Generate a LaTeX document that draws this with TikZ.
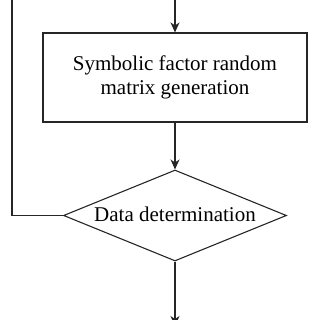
\documentclass[tikz,border=0pt]{standalone}
\usepackage{fontspec}
\setmainfont{Liberation Serif}
\usetikzlibrary{shapes.geometric,arrows.meta}
\begin{document}
\begin{tikzpicture}[x=1pt,y=-1pt,
  line width=1.1pt, draw=black!85,
  arr/.style={-{Stealth[length=10pt,width=9pt,inset=3pt]}},
  procbox/.style={draw, minimum width=264pt, minimum height=89pt, inner sep=0pt, align=center,
    font=\fontsize{21pt}{24pt}\selectfont},
  decision/.style={draw, diamond, inner sep=0pt, minimum width=223pt, minimum height=91pt, aspect=2.45,
    font=\fontsize{21pt}{24pt}\selectfont}]
\useasboundingbox (0,0) rectangle (320,320);
\clip (0,0) rectangle (320,320);
\coordinate (top) at (175,-2);
\coordinate (bot) at (175,326);
\coordinate (ltop) at (12,-2);
\node[procbox] (gen) at (175,77.5) {Symbolic factor random\\matrix generation};
\node[decision] (dec) at (175,215.5) {};
\node[font=\fontsize{21pt}{24pt}\selectfont, anchor=base] (dlabel) at (175,221) {Data determination};
\draw[arr] (top) -- (gen.north);
\draw[arr] (gen.south) -- (dec.north);
\draw[arr] (dec.south) -- (bot);
\draw (dec.west) -| (ltop);
\end{tikzpicture}
\end{document}
